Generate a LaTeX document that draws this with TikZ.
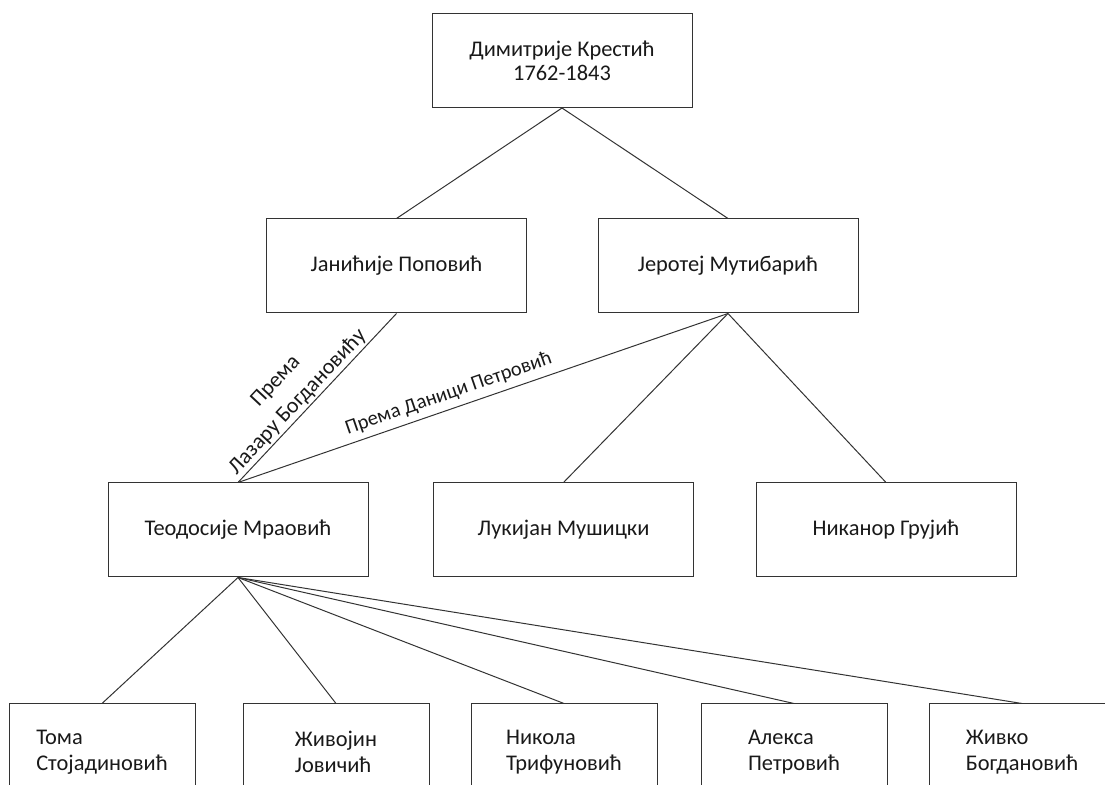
\documentclass[tikz,border=0pt]{standalone}
\usepackage{fontspec}
\setmainfont{Carlito}
\colorlet{boxLineColour}{black!80}
\colorlet{nameColour}{black!90}

\tikzset{
	osoba/.style={draw=boxLineColour, line width=0.5pt, text=nameColour, minimum width=130pt, minimum height=47pt, align=center},
	ucenik/.style={osoba, minimum width=93pt, minimum height=48pt, align=left, font=\fontsize{11.2}{13}\selectfont},
	veza/.style={draw=boxLineColour, line width=0.5pt}
}

\begin{document}
\begin{tikzpicture}[x=0.5pt,y=-0.5pt,font=\fontsize{11.2}{12}\selectfont]
\useasboundingbox (0,0) rectangle (1105,785);
\node[osoba] (dimitrije) at (562,60.5) {Димитрије Крестић\\1762-1843};
\node[osoba] (janicije) at (396.5,266) {Јанићије Поповић};
\node[osoba] (jerotej) at (728,266) {Јеротеј Мутибарић};
\node[osoba] (teodosije) at (238,530) {Теодосије Мраовић};
\node[osoba] (lukijan) at (563.5,530) {Лукијан Мушицки};
\node[osoba] (nikanor) at (886,530) {Никанор Грујић};
\draw[veza] (dimitrije.south) -- (janicije.north);
\draw[veza] (dimitrije.south) -- (jerotej.north);
\draw[veza] (teodosije.north) -- node[sloped, above, pos=0.43, align=center, inner sep=1pt, text=nameColour, font=\fontsize{11}{15}\selectfont] {Према\\Лазару Богдановићу} (janicije.south);
\draw[veza] (teodosije.north) -- node[sloped, above, pos=0.44, inner sep=3pt, text=nameColour, font=\fontsize{10.2}{12}\selectfont] {Према Даници Петровић} (jerotej.south);
\draw[veza] (jerotej.south) -- (lukijan.north);
\draw[veza] (jerotej.south) -- (nikanor.north);
% ученици
\foreach \i/\x/\ime in {1/102/{Тома\\Стојадиновић}, 2/336/{Живојин\\Јовичић}, 3/564/{Никола\\Трифуновић}, 4/794/{Алекса\\Петровић}, 5/1022/{Живко\\Богдановић}}
{%
	\node[ucenik] (ucenik \i) at (\x,752) {\ime};
	\draw[veza] (teodosije.south) -- (ucenik \i.north);
}%
\end{tikzpicture}
\end{document}
